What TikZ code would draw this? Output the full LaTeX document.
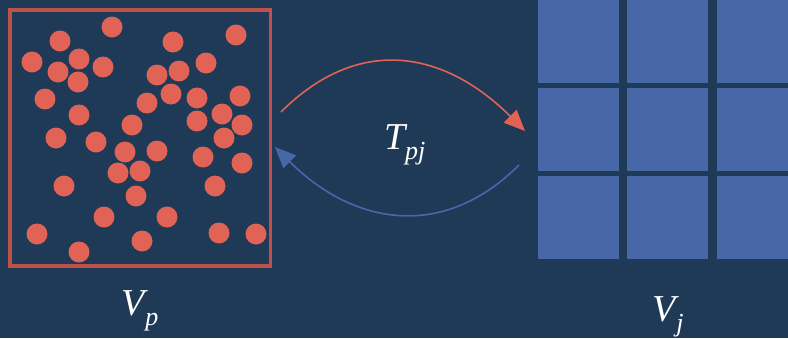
\documentclass[tikz,border=0pt]{standalone}
\usepackage{fontspec}
\setmainfont{Liberation Serif}
\usepackage{tikz}
\usetikzlibrary{arrows.meta}
\definecolor{bgnavy}{HTML}{1F3A56}
\definecolor{dotred}{HTML}{E06356}
\definecolor{boxred}{HTML}{C0514A}
\definecolor{cellblue}{HTML}{4867A8}
\newcommand{\symsub}[2]{\textit{#1}\kern-0.08em\raisebox{-0.28em}{\fontsize{26}{28}\selectfont\textit{#2}}}

\begin{document}
\begin{tikzpicture}[x=1pt, y=-1pt, >={Triangle[length=21pt, width=18pt]},
    dot/.style={fill=dotred},
    cell/.style={fill=cellblue, minimum width=81pt, minimum height=83pt, inner sep=0pt, anchor=north west},
    lbl/.style={text=white, font=\fontsize{38}{40}\selectfont, anchor=base}]
    \useasboundingbox (0,0) rectangle (788,338);
    \fill[bgnavy] (0,0) rectangle (788,338);
    \clip (0,0) rectangle (788,338);
    % particle volume
    \node[draw=boxred, line width=3.5pt, minimum width=260.5pt, minimum height=256pt, inner sep=0pt] (boxp) at (140.25,138) {};
    \foreach \x/\y in {112/27, 60/41, 236/35, 173/42, 32/62, 79/59, 58/72, 103/67,
        78/82, 157/75, 179/71, 206/63, 45/99, 147/103, 171/94, 197/98, 240/96,
        79/115, 132/125, 197/121, 222/114, 242/125, 56/138, 96/142, 224/138,
        125/152, 157/151, 203/157, 242/163, 118/173, 140/171, 64/186, 215/186,
        136/196, 104/217, 167/217, 37/234, 142/241, 219/233, 256/234, 79/252}
        \fill[dot] (\x,\y) circle (10.5pt);
    % grid volume
    \foreach \i in {1,2,3}
        \foreach \j in {1,2,3}
            \node[cell] (c\j\i) at ({537.5+89.5*(\i-1)}, {88*(\j-1)}) {};
    % labels
    \node[lbl] (vp) at (140,315) {\symsub{V}{p}};
    \node[lbl] (vj) at (668,321) {\symsub{V}{j}};
    \node[lbl] (tpj) at (405,149) {\symsub{T}{pj}};
    % transfer arrows
    \coordinate (pjout) at (281,112);
    \coordinate (pjin) at (525,131);
    \coordinate (jpout) at (519,165);
    \coordinate (jpin) at (275,147);
    \draw[->, dotred, line width=1.6pt] (pjout) .. controls (360,33) and (446,52) .. (pjin);
    \draw[->, cellblue, line width=1.6pt] (jpout) .. controls (442,242) and (352,224) .. (jpin);
\end{tikzpicture}
\end{document}
